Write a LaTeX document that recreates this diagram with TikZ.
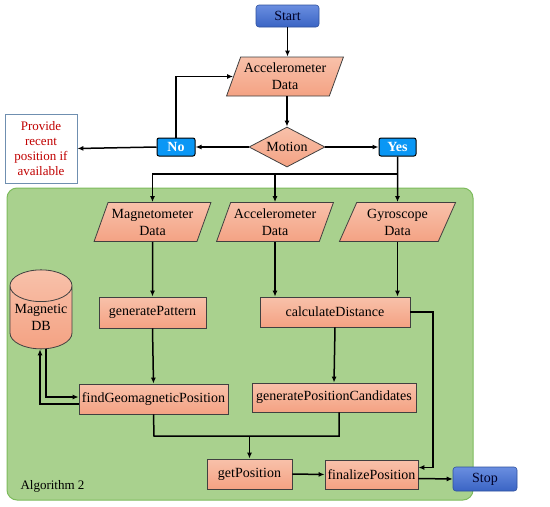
\documentclass[tikz,border=0pt]{standalone}
\usepackage{fontspec}
\setmainfont{Liberation Serif}
\usetikzlibrary{shapes.geometric,arrows.meta}
\definecolor{orA}{HTML}{F8C1AA}
\definecolor{orB}{HTML}{F4A283}
\definecolor{blA}{HTML}{6A8EE0}
\definecolor{blB}{HTML}{3A64C4}
\definecolor{ynblue}{HTML}{0A97F5}
\definecolor{grfill}{HTML}{A9D18E}
\definecolor{grline}{HTML}{7DBB5C}
\definecolor{prov}{HTML}{C00000}
\definecolor{provline}{HTML}{6F8FB0}
\tikzset{
  txt/.style={font=\rmfamily\fontsize{14}{17}\selectfont, align=center},
  proc/.style={txt, rectangle, draw=black!75, line width=0.8pt, top color=orA, bottom color=orB, inner sep=0pt},
  iobox/.style={txt, trapezium, trapezium left angle=64, trapezium right angle=116, trapezium stretches=true,
     draw=black!75, line width=0.8pt, top color=orA, bottom color=orB, inner sep=0pt, minimum width=117, minimum height=39},
  term/.style={txt, rectangle, rounded corners=3pt, draw=blB!80!black, line width=0.6pt, top color=blA, bottom color=blB, inner sep=0pt, text=black!85!blue},
  yn/.style={rectangle, rounded corners=2pt, draw=black, line width=1pt, fill=ynblue, text=white, inner sep=0pt,
     font=\rmfamily\fontsize{14}{16}\selectfont\bfseries, minimum width=38, minimum height=18},
  arr/.style={-{Latex[length=6pt,width=5pt]}, line width=1.5pt},
  ln/.style={line width=1.5pt},
}
\begin{document}
\begin{tikzpicture}[x=1pt,y=-1pt]
\useasboundingbox (0,0) rectangle (550,507);
% green region
\node[rectangle, rounded corners=10pt, fill=grfill, draw=grline, line width=1pt, minimum width=466, minimum height=312, inner sep=0pt] (alg) at (240,344) {};
\node[anchor=west, font=\rmfamily\fontsize{13}{15}\selectfont] (algl) at (17,486) {Algorithm 2};

\node[term, minimum width=63, minimum height=22] (start) at (287.5,16) {Start};
\node[iobox] (acc) at (285,76.5) {Accelerometer\\Data};
\node[txt, diamond, aspect=1.9, inner sep=0pt, minimum width=76, minimum height=40, draw=black!75, line width=0.8pt, top color=orA, bottom color=orB] (motion) at (287,147) {Motion};
\node[yn] (no) at (176,147) {No};
\node[yn, minimum width=37] (yes) at (397.5,147) {Yes};
\node[rectangle, draw=provline, line width=0.8pt, minimum width=72, minimum height=69, inner sep=0pt, text=prov,
      font=\rmfamily\fontsize{13}{15}\selectfont, align=center] (prov) at (41,148.5) {Provide\\recent\\position if\\available};

\node[iobox] (mag) at (152.5,222) {Magnetometer\\Data};
\node[iobox] (acc2) at (275,222) {Accelerometer\\Data};
\node[iobox] (gyro) at (397.5,222) {Gyroscope\\Data};

\node[proc, minimum width=107, minimum height=31] (genpat) at (152.5,312.5) {generatePattern};
\node[proc, minimum width=150, minimum height=30] (calc) at (335,312) {calculateDistance};
\node[txt, cylinder, shape border rotate=90, aspect=0.6, draw=black!75, line width=0.8pt, top color=orA, bottom color=orB,
      minimum width=62, minimum height=79, inner sep=0pt] (db) at (41,317.5) {Magnetic\\DB};
\node[proc, minimum width=149, minimum height=30] (findgeo) at (153.5,399) {findGeomagneticPosition};
\node[proc, minimum width=164, minimum height=29] (gpc) at (334,397.5) {generatePositionCandidates};
\node[proc, minimum width=85, minimum height=30] (getpos) at (249.5,474) {getPosition};
\node[proc, minimum width=93, minimum height=29] (final) at (371.5,474.5) {finalizePosition};
\node[term, minimum width=64, minimum height=24] (stop) at (485,479) {Stop};

% connectors
\draw[arr] (start.south) -- (start.south |- acc.north);
\draw[arr] (motion.north |- acc.south) -- (motion.north);
\draw[arr] (motion.west) -- (no.east);
\draw[arr] (motion.east) -- (yes.west);
\draw[arr] (no.west) -- (prov.east);
\draw[arr] (no.north) |- (acc.west);
\coordinate (sp) at (yes.south |- 0,174);
\draw[arr] (yes.south) -- (gyro.north);
\draw[arr] (sp) -| (mag.north);
\draw[arr] (sp -| acc2.north) -- (acc2.north);
\draw[arr] (mag.south) -- (genpat.north);
\draw[arr] (genpat.south) -- (findgeo.north);
\draw[arr] (acc2.south) -- (acc2.south |- calc.north);
\draw[arr] (gyro.south) -- (gyro.south |- calc.north);
\draw[arr] (calc.south) -- (gpc.north);
\coordinate (cr) at (433,312);
\draw[arr] (calc.east) -- (cr) |- ([yshift=7pt]final.east);
\coordinate (jn) at (154,436);
\draw[ln] (findgeo.south) -- (jn) -| ([xshift=5pt]gpc.south);
\draw[arr] (getpos.north |- jn) -- (getpos.north);
\draw[arr] (getpos.east) -- (final.west);
\draw[arr] ([yshift=-4pt]final.east) -- (stop.west);
\draw[arr] ([yshift=-5pt]findgeo.west) -| ([xshift=-1pt]db.south);
\draw[arr] ([xshift=5pt]db.south) |- ([yshift=2pt]findgeo.west);
\end{tikzpicture}
\end{document}
